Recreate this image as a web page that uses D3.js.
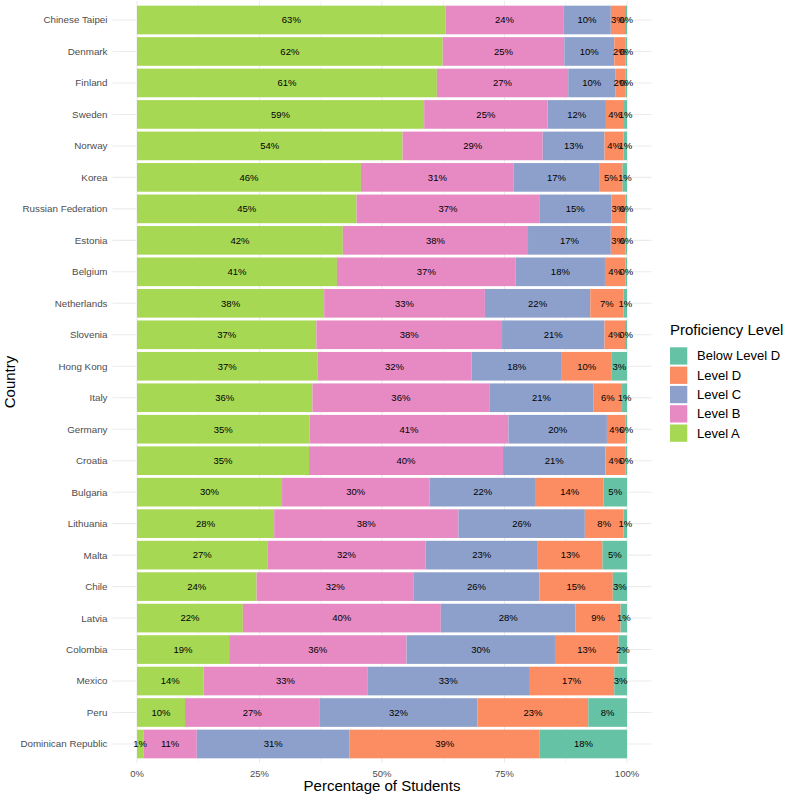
<!DOCTYPE html>
<html>
<head>
<meta charset="utf-8">
<script src="https://cdn.jsdelivr.net/npm/d3@7"></script>
<style>
  html, body { margin: 0; padding: 0; background: #fff; }
  svg { display: block; font-family: "Liberation Sans", Arial, Helvetica, sans-serif; }
</style>
</head>
<body>
<svg id="chart" width="789" height="797"></svg>
<script>
// ---- Data (percent of students) ----
const countries = ["Chinese Taipei","Denmark","Finland","Sweden","Norway","Korea","Russian Federation","Estonia","Belgium","Netherlands","Slovenia","Hong Kong","Italy","Germany","Croatia","Bulgaria","Lithuania","Malta","Chile","Latvia","Colombia","Mexico","Peru","Dominican Republic"];
const levels = ["Level A","Level B","Level C","Level D","Below Level D"];           // stacking order left -> right
const legendOrder = ["Below Level D","Level D","Level C","Level B","Level A"];
const levelA =      [63.0,62.4,61.2,58.6,54.2,45.7,44.8,42.0,40.8,38.2,36.6,36.8,35.8,35.2,35.1,29.6,28.0,26.6,24.4,21.6,18.8,13.6, 9.8, 1.3];
const levelB =      [24.0,24.8,26.8,25.2,28.6,31.2,37.3,37.8,36.5,32.8,37.9,31.5,36.1,40.6,39.6,30.1,37.6,32.3,32.1,40.4,36.2,33.4,27.4,10.9];
const levelC =      [ 9.7,10.2, 9.6,11.9,12.6,17.4,14.7,16.9,18.2,21.5,20.9,18.4,21.3,20.1,20.9,21.7,25.8,22.9,25.6,27.5,30.3,33.0,32.3,31.2];
const levelD =      [ 2.9, 2.3, 2.1, 3.7, 3.9, 4.8, 2.9, 3.0, 4.2, 6.8, 4.2,10.2, 5.8, 3.8, 4.1,13.8, 7.9,13.2,15.0, 9.2,13.0,17.4,22.6,38.8];
const belowLevelD = [ 0.4, 0.3, 0.3, 0.6, 0.7, 0.9, 0.3, 0.3, 0.3, 0.7, 0.4, 3.1, 1.0, 0.3, 0.3, 4.8, 0.7, 5.0, 2.9, 1.3, 1.7, 2.6, 7.9,17.8];
const xTicks = [0, 25, 50, 75, 100];
const xTickLabels = ["0%","25%","50%","75%","100%"];
const xMinor = [12.5, 37.5, 62.5, 87.5];

const colors = {"Below Level D":"#66C2A5","Level D":"#FC8D62","Level C":"#8DA0CB","Level B":"#E78AC3","Level A":"#A6D854"};

const rows = countries.map((c,i) => ({
  country: c,
  "Level A": levelA[i], "Level B": levelB[i], "Level C": levelC[i],
  "Level D": levelD[i], "Below Level D": belowLevelD[i]
}));

const svg = d3.select("#chart");
const panel = {left: 112.5, right: 651.5, top: 1, bottom: 763};

const x = d3.scaleLinear().domain([0,100]).range([137, 627]);
const y = d3.scalePoint().domain(countries).range([20, 744]);
const step = y.step();
const barH = step * 0.91;

// grid
const g = svg.append("g");
g.selectAll("line.minor").data(xMinor).join("line")
  .attr("x1", d => x(d)).attr("x2", d => x(d))
  .attr("y1", panel.top).attr("y2", panel.bottom)
  .attr("stroke", "#EBEBEB").attr("stroke-width", 0.55);
g.selectAll("line.majorx").data(xTicks).join("line")
  .attr("x1", d => x(d)).attr("x2", d => x(d))
  .attr("y1", panel.top).attr("y2", panel.bottom)
  .attr("stroke", "#EBEBEB").attr("stroke-width", 1.07);
g.selectAll("line.majory").data(countries).join("line")
  .attr("x1", panel.left).attr("x2", panel.right)
  .attr("y1", d => y(d)).attr("y2", d => y(d))
  .attr("stroke", "#EBEBEB").attr("stroke-width", 1.07);

// stacked bars
const stack = d3.stack().keys(levels);
const series = stack(rows);

const bars = svg.append("g");
series.forEach(s => {
  bars.append("g").attr("fill", colors[s.key])
    .selectAll("rect").data(s).join("rect")
    .attr("x", d => x(d[0]))
    .attr("width", d => x(d[1]) - x(d[0]))
    .attr("y", d => y(d.data.country) - barH/2)
    .attr("height", barH);
});

// labels
const labels = svg.append("g").attr("font-size", "9.5px").attr("fill", "#000")
  .attr("text-anchor", "middle");
series.forEach(s => {
  labels.selectAll(null).data(s).join("text")
    .attr("x", d => x((d[0] + d[1]) / 2))
    .attr("y", d => y(d.data.country))
    .attr("dy", "0.35em")
    .text(d => Math.round(d[1] - d[0]) + "%");
});

// y axis labels
svg.append("g").attr("font-size", "9.8px").attr("fill", "#4D4D4D").attr("text-anchor", "end")
  .selectAll("text").data(countries).join("text")
  .attr("x", 107.5).attr("y", d => y(d)).attr("dy", "0.35em").text(d => d);

// x axis labels
svg.append("g").attr("font-size", "9.5px").attr("fill", "#4D4D4D").attr("text-anchor", "middle")
  .selectAll("text").data(xTicks).join("text")
  .attr("x", d => x(d)).attr("y", 777).text((d,i) => xTickLabels[i]);

// axis titles
svg.append("text").attr("x", (panel.left + panel.right)/2).attr("y", 791)
  .attr("text-anchor", "middle").attr("font-size", "15px").attr("fill", "#000")
  .text("Percentage of Students");
svg.append("text").attr("transform", `translate(14.5, ${(panel.top + panel.bottom)/2}) rotate(-90)`)
  .attr("text-anchor", "middle").attr("font-size", "15px").attr("fill", "#000")
  .text("Country");

// legend
const leg = svg.append("g").attr("transform", "translate(670, 0)");
leg.append("text").attr("x", 0).attr("y", 335).attr("font-size", "15px").attr("fill", "#000")
  .text("Proficiency Level");
const items = leg.selectAll("g.item").data(legendOrder).join("g")
  .attr("transform", (d,i) => `translate(0, ${347.3 + i*19.3})`);
items.append("rect").attr("width", 17.3).attr("height", 17.3).attr("fill", d => colors[d]);
items.append("text").attr("x", 27).attr("y", 8.65).attr("dy", "0.35em")
  .attr("font-size", "13px").attr("fill", "#000").text(d => d);
</script>
</body>
</html>
